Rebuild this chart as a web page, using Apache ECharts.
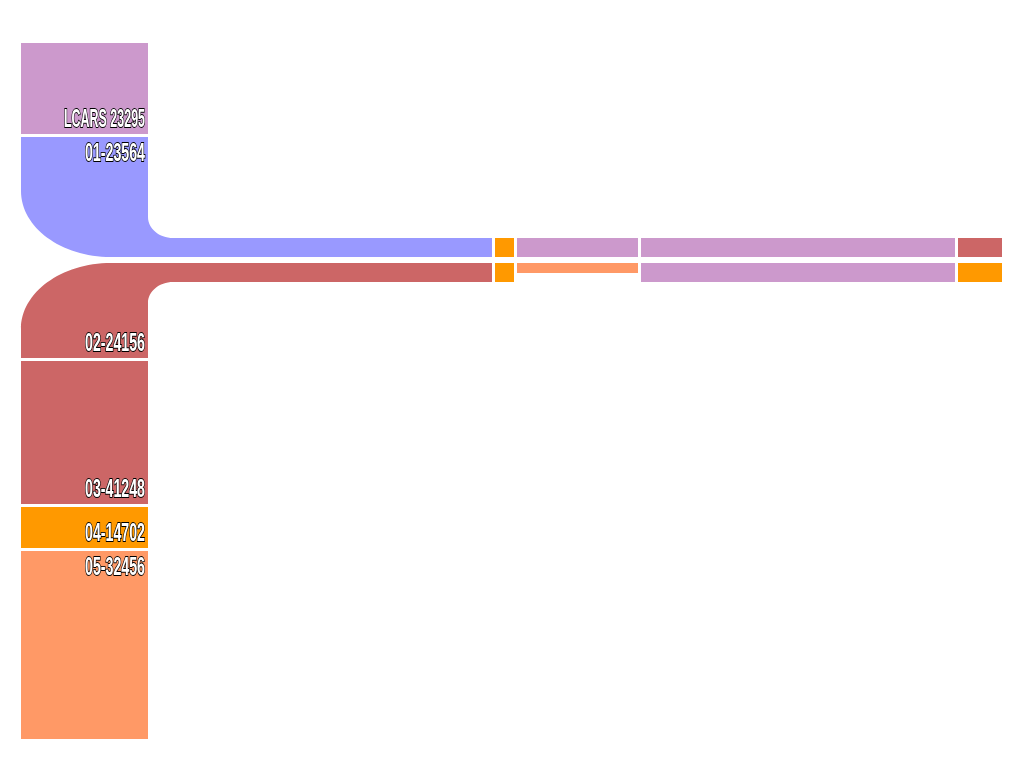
<!DOCTYPE html>
<html>
<head>
<meta charset="utf-8">
<script src="https://cdn.jsdelivr.net/npm/echarts@6/dist/echarts.min.js"></script>
<style>
html,body{margin:0;padding:0;background:#fff;}
#chart{width:1024px;height:768px;}
</style>
</head>
<body>
<div id="chart"></div>
<script>
// ---- data ----
const columnLabels = ['LCARS 23295', '01-23564', '02-24156', '03-41248', '04-14702', '05-32456'];
const columnValues = [91, 120, 95, 143, 41, 188];
const upperBarValues = [344, 19, 121, 314, 44];
const lowerBarValues = [344, 19, 121, 314, 44];

// ---- styles / layout ----
const columnColors = ['#CC99CC', '#9999FF', '#CC6666', '#CC6666', '#FF9900', '#FF9966'];
const labelAnchor = ['bottom', 'top', 'bottom', 'bottom', 'bottom', 'top'];
const labelWidth = [81, 60, 60, 60, 60, 60];
const upperBarColors = ['#9999FF', '#FF9900', '#CC99CC', '#CC99CC', '#CC6666'];
const lowerBarColors = ['#CC6666', '#FF9900', '#FF9966', '#CC99CC', '#FF9900'];
const lowerBarThick = [1, 1, 0.53, 1, 1];

const COL_X0 = 21, COL_X1 = 148, COL_TOP = 43, GAP = 3, ELBOW_GAP = 6;
const BAR_THICK = 19;
const UPPER_ELBOW = 1, LOWER_ELBOW = 2;
const IRX = 25, IRY = 21, ORX = 90, ORY = 66, K = 0.5523;
const FONT_FAMILY = "'Liberation Sans Narrow', 'Liberation Sans', 'DejaVu Sans', sans-serif";
const FONT_SIZE = 25;

// column segment extents
const colSegs = [];
let cur = COL_TOP;
columnValues.forEach((v, i) => {
  if (i > 0) cur += (i === LOWER_ELBOW ? ELBOW_GAP : GAP);
  colSegs.push([i, cur, cur + v]);
  cur += v;
});
const upperY1 = colSegs[UPPER_ELBOW][2];
const upperY0 = upperY1 - BAR_THICK;
const lowerY0 = colSegs[LOWER_ELBOW][1];
const lowerY1 = lowerY0 + BAR_THICK;

function barSegs(values) {
  const out = [];
  let x = COL_X1;
  values.forEach((v, i) => {
    if (i > 0) x += GAP;
    out.push([i, x, x + v]);
    x += v;
  });
  return out;
}
const upperSegs = barSegs(upperBarValues);
const lowerSegs = barSegs(lowerBarValues);

// text scale so the condensed look matches
const mc = document.createElement('canvas').getContext('2d');
mc.font = 'bold ' + FONT_SIZE + 'px ' + FONT_FAMILY;
const textScale = columnLabels.map((t, i) => labelWidth[i] / mc.measureText(t).width);

function P(api, x, y) { return api.coord([x, y]); }

function elbowPath(api, y0, y1, armEnd, upper) {
  const f = (x, y) => { const p = P(api, x, y); return p[0].toFixed(2) + ' ' + p[1].toFixed(2); };
  if (upper) {
    const armTop = y1 - BAR_THICK;
    const icx = COL_X1 + IRX, icy = armTop - IRY;
    const ocx = COL_X0 + ORX, ocy = y1 - ORY;
    return 'M' + f(COL_X0, y0) + ' L' + f(COL_X1, y0) + ' L' + f(COL_X1, icy) +
      ' C' + f(COL_X1, icy + K * IRY) + ' ' + f(icx - K * IRX, armTop) + ' ' + f(icx, armTop) +
      ' L' + f(armEnd, armTop) + ' L' + f(armEnd, y1) + ' L' + f(ocx, y1) +
      ' C' + f(ocx - K * ORX, y1) + ' ' + f(COL_X0, ocy + K * ORY) + ' ' + f(COL_X0, ocy) + ' Z';
  } else {
    const armBot = y0 + BAR_THICK;
    const icx = COL_X1 + IRX, icy = armBot + IRY;
    const ocx = COL_X0 + ORX, ocy = y0 + ORY;
    return 'M' + f(COL_X0, y1) + ' L' + f(COL_X1, y1) + ' L' + f(COL_X1, icy) +
      ' C' + f(COL_X1, icy - K * IRY) + ' ' + f(icx - K * IRX, armBot) + ' ' + f(icx, armBot) +
      ' L' + f(armEnd, armBot) + ' L' + f(armEnd, y0) + ' L' + f(ocx, y0) +
      ' C' + f(ocx - K * ORX, y0) + ' ' + f(COL_X0, ocy - K * ORY) + ' ' + f(COL_X0, ocy) + ' Z';
  }
}

function renderColumn(params, api) {
  const i = api.value(0), y0 = api.value(1), y1 = api.value(2);
  const children = [];
  if (i === UPPER_ELBOW) {
    children.push({ type: 'path', shape: { pathData: elbowPath(api, y0, y1, upperSegs[0][2], true) }, style: { fill: columnColors[i] } });
  } else if (i === LOWER_ELBOW) {
    children.push({ type: 'path', shape: { pathData: elbowPath(api, y0, y1, lowerSegs[0][2], false) }, style: { fill: columnColors[i] } });
  } else {
    const a = P(api, COL_X0, y0), b = P(api, COL_X1, y1);
    children.push({ type: 'rect', shape: { x: a[0], y: a[1], width: b[0] - a[0], height: b[1] - a[1] }, style: { fill: columnColors[i] } });
  }
  const ty = labelAnchor[i] === 'top' ? y0 + 17 : y1 - 13.5;
  const tp = P(api, COL_X1 - 3, ty);
  children.push({
    type: 'text', x: tp[0], y: tp[1], scaleX: textScale[i],
    style: {
      text: columnLabels[i], fill: '#fff', stroke: '#000', lineWidth: 2,
      fontSize: FONT_SIZE, fontWeight: 'bold', fontFamily: FONT_FAMILY,
      align: 'right', verticalAlign: 'middle'
    }
  });
  return { type: 'group', children };
}

function makeBarRender(colors, yTop, yBot, thick, skipFirst) {
  return function (params, api) {
    const i = api.value(0);
    if (skipFirst && i === 0) return null;
    const x0 = api.value(1), x1 = api.value(2);
    const h = (yBot - yTop) * (thick ? thick[i] : 1);
    const a = P(api, x0, yTop), b = P(api, x1, yTop + h);
    return { type: 'rect', shape: { x: a[0], y: a[1], width: b[0] - a[0], height: b[1] - a[1] }, style: { fill: colors[i] } };
  };
}

const chart = echarts.init(document.getElementById('chart'), null, { renderer: 'canvas' });
chart.setOption({
  backgroundColor: '#ffffff',
  animation: false,
  grid: { left: 0, right: 0, top: 0, bottom: 0 },
  xAxis: { type: 'value', min: 0, max: 1024, show: false },
  yAxis: { type: 'value', min: 0, max: 768, inverse: true, show: false },
  series: [
    { type: 'custom', name: 'upper', data: upperSegs, renderItem: makeBarRender(upperBarColors, upperY0, upperY1, null, true), encode: { x: [1, 2] } },
    { type: 'custom', name: 'lower', data: lowerSegs, renderItem: makeBarRender(lowerBarColors, lowerY0, lowerY1, lowerBarThick, true), encode: { x: [1, 2] } },
    { type: 'custom', name: 'column', data: colSegs, renderItem: renderColumn, encode: { y: [1, 2] } }
  ]
});
</script>
</body>
</html>
